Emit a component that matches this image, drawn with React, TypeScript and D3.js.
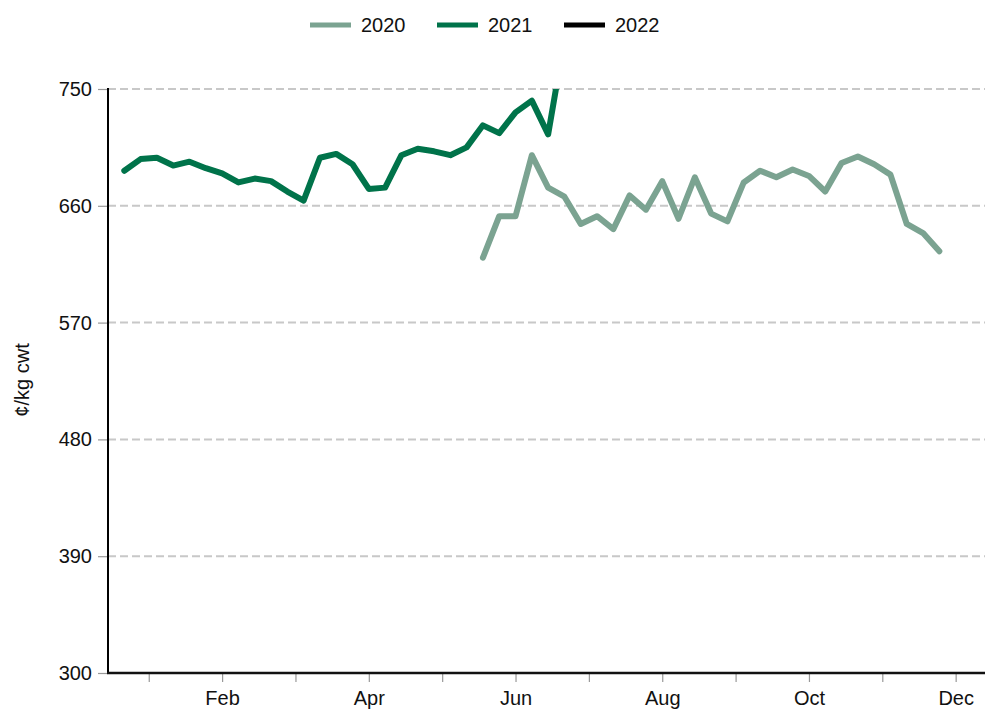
import React, { useEffect, useRef } from 'react';
import * as d3 from 'd3';

// weekly prices, ¢/kg cwt (week numbers start at 1)
const start2020 = 23;
const values2020 = [
  620, 652, 652, 699, 674, 667, 646, 652, 642, 668, 657, 679, 650, 682, 654,
  648, 678, 687, 682, 688, 683, 671, 693, 698, 692, 684, 646, 639, 625,
];
const start2021 = 1;
const values2021 = [
  687, 696, 697, 691, 694, 689, 685, 678, 681, 679, 671, 664, 697, 700, 692,
  673, 674, 699, 704, 702, 699, 705, 722, 716, 732, 741, 715, 788,
];
const values2022: number[] = [];

const seriesNames = ['2020', '2021', '2022'];
const seriesColors = ['#7ba391', '#00734a', '#000000'];
const monthLabels = ['Jan', 'Feb', 'Mar', 'Apr', 'May', 'Jun', 'Jul', 'Aug', 'Sep', 'Oct', 'Nov', 'Dec'];
const yTicks = [300, 390, 480, 570, 660, 750];

interface Pt { week: number; value: number; }

const App: React.FC = () => {
  const svgRef = useRef<SVGSVGElement>(null);

  useEffect(() => {
    const W = 985, H = 709;
    const left = 108, right = 985, top = 89, bottom = 673;
    const font = 'Liberation Sans, Arial, sans-serif';

    const svg = d3.select(svgRef.current);
    svg.selectAll('*').remove();
    svg.attr('width', W).attr('height', H).style('background', '#fff');

    const x = d3.scaleLinear().domain([0, 53.8]).range([left, right]);
    const y = d3.scaleLinear().domain([300, 750]).range([bottom, top]);

    // clip for plot
    svg.append('clipPath').attr('id', 'plotclip')
      .append('rect')
      .attr('x', left).attr('y', top)
      .attr('width', right - left).attr('height', bottom - top);

    // grid
    svg.append('g')
      .selectAll('line')
      .data(yTicks.filter(t => t > 300))
      .enter().append('line')
      .attr('x1', left).attr('x2', right)
      .attr('y1', d => y(d)).attr('y2', d => y(d))
      .attr('stroke', '#c8c8c8')
      .attr('stroke-width', 2)
      .attr('stroke-dasharray', '8,4');

    // y axis
    const yAxis = svg.append('g')
      .attr('transform', `translate(${left},0)`)
      .call(d3.axisLeft(y).tickValues(yTicks).tickSize(10).tickPadding(6).tickFormat(d => String(d)));
    yAxis.select('.domain').remove();
    yAxis.selectAll('line').attr('stroke', '#999').attr('stroke-width', 1.2);
    yAxis.selectAll('text')
      .style('font-family', font).style('font-size', '20px').attr('fill', '#111');

    // x axis
    const monthWeeks = monthLabels.map((_, i) => 2.5 + i * 4.5);
    const xAxis = svg.append('g')
      .attr('transform', `translate(0,${bottom})`)
      .call(d3.axisBottom(x).tickValues(monthWeeks).tickSize(9).tickPadding(9)
        .tickFormat((_, i) => (i % 2 === 1 ? monthLabels[i] : '')));
    xAxis.select('.domain').remove();
    xAxis.selectAll('line').attr('stroke', '#999').attr('stroke-width', 1.2);
    xAxis.selectAll('text')
      .style('font-family', font).style('font-size', '20px').attr('fill', '#111');

    // axis lines
    svg.append('line')
      .attr('x1', left).attr('x2', left).attr('y1', top - 1).attr('y2', bottom + 1)
      .attr('stroke', '#000').attr('stroke-width', 2);
    svg.append('line')
      .attr('x1', left - 1).attr('x2', right).attr('y1', bottom).attr('y2', bottom)
      .attr('stroke', '#111').attr('stroke-width', 2.5);

    // y label
    svg.append('text')
      .attr('transform', 'translate(29,380) rotate(-90)')
      .attr('text-anchor', 'middle')
      .style('font-family', font).style('font-size', '20px').attr('fill', '#111')
      .text('¢/kg cwt');

    // lines
    const line = d3.line<Pt>()
      .x(d => x(d.week))
      .y(d => y(d.value));

    const series: Pt[][] = [
      values2020.map((v, i) => ({ week: start2020 + i, value: v })),
      values2021.map((v, i) => ({ week: start2021 + i, value: v })),
      values2022.map((v, i) => ({ week: 1 + i, value: v })),
    ];

    const plot = svg.append('g').attr('clip-path', 'url(#plotclip)');
    series.forEach((s, i) => {
      if (!s.length) return;
      plot.append('path')
        .datum(s)
        .attr('fill', 'none')
        .attr('stroke', seriesColors[i])
        .attr('stroke-width', 6)
        .attr('stroke-linejoin', 'round')
        .attr('stroke-linecap', 'round')
        .attr('d', line);
    });

    // legend
    const legendX = [310, 437, 564];
    const legend = svg.append('g').attr('transform', 'translate(0,25)');
    seriesNames.forEach((name, i) => {
      legend.append('line')
        .attr('x1', legendX[i]).attr('x2', legendX[i] + 41)
        .attr('y1', 0).attr('y2', 0)
        .attr('stroke', seriesColors[i]).attr('stroke-width', 5);
      legend.append('text')
        .attr('x', legendX[i] + 51).attr('y', 7)
        .style('font-family', font).style('font-size', '20px').attr('fill', '#111')
        .text(name);
    });
  }, []);

  return (
    <div style={{ position: 'absolute', left: 0, top: 0 }}>
      <svg ref={svgRef}></svg>
    </div>
  );
};

export default App;
